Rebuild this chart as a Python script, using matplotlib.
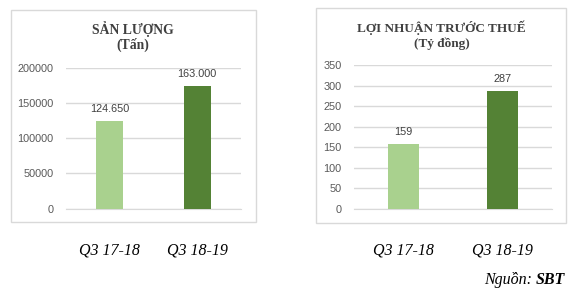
import matplotlib.pyplot as plt
from matplotlib.patches import Rectangle

# Data
periods = ['Q3 17-18', 'Q3 18-19']
san_luong = [124650, 174000]          # bar heights as drawn in the picture
san_luong_labels = ['124.650', '163.000']
loi_nhuan = [159, 287]
loi_nhuan_labels = ['159', '287']
bar_colors = ['#a9d18e', '#548235']

serif = 'Liberation Serif'
sans = 'Liberation Sans'
grid_col = '#d9d9d9'
tick_col = '#595959'

fig = plt.figure(figsize=(5.86, 2.97), dpi=100)
fig.patch.set_facecolor('white')

# chart frames
for rect in [(11 / 586, 75 / 297, 245 / 586, 212 / 297),
             (316 / 586, 74 / 297, 250 / 586, 215 / 297)]:
    fig.patches.append(Rectangle(rect[:2], rect[2], rect[3], transform=fig.transFigure,
                                 facecolor='none', edgecolor=grid_col, linewidth=1))


def bar_panel(ax, values, labels, ylim, step):
    x = range(len(values))
    ax.bar(x, values, width=0.31, color=bar_colors, zorder=3)
    for xi, v, lab in zip(x, values, labels):
        ax.annotate(lab, (xi, v), xytext=(0, 5), textcoords='offset points',
                    ha='center', va='bottom', fontsize=7.8, family=sans, color='#404040')
    ax.set_xlim(-0.5, len(values) - 0.5)
    ax.set_ylim(0, ylim)
    ax.set_yticks(range(0, ylim + 1, step))
    ax.yaxis.grid(True, color=grid_col, linewidth=1, zorder=0)
    ax.set_xticks(list(x))
    ax.set_xticklabels(periods, family=serif, style='italic', fontsize=11.5, color='black')
    ax.tick_params(axis='x', length=0, pad=24)
    ax.tick_params(axis='y', length=0, pad=9, labelsize=7.8, labelcolor=tick_col)
    for lab in ax.get_yticklabels():
        lab.set_family(sans)
    for s in ax.spines.values():
        s.set_visible(False)
    ax.spines['bottom'].set_visible(True)
    ax.spines['bottom'].set_color(grid_col)


ax1 = fig.add_axes([66 / 586, 88.3 / 297, 175 / 586, 141 / 297])
bar_panel(ax1, san_luong, san_luong_labels, 200000, 50000)

ax2 = fig.add_axes([354 / 586, 88.3 / 297, 198 / 586, 143.4 / 297])
bar_panel(ax2, loi_nhuan, loi_nhuan_labels, 350, 50)

# titles
fig.text(133 / 586, 0.902, 'SẢN LƯỢNG', ha='center', va='center',
         family=serif, weight='bold', fontsize=9.8, color='#404040')
fig.text(133 / 586, 0.848, '(Tấn)', ha='center', va='center',
         family=serif, weight='bold', fontsize=9.8, color='#404040')
fig.text(441 / 586, 0.907, 'LỢI NHUẬN TRƯỚC THUẾ', ha='center', va='center',
         family=serif, weight='bold', fontsize=9.5, color='#404040')
fig.text(442 / 586, 0.854, '(Tỷ đồng)', ha='center', va='center',
         family=serif, weight='bold', fontsize=9.5, color='#404040')

# source
t_sbt = fig.text(0.964, 0.03, 'SBT', ha='right', va='bottom',
                 family=serif, weight='bold', style='italic', fontsize=11.5)
fig.canvas.draw()
bb = t_sbt.get_window_extent()
t_src = fig.text(bb.x0 / fig.bbox.width, 0.03, 'Nguồn: ', ha='right', va='bottom',
                 family=serif, style='italic', fontsize=11.5)

fig.savefig('out.png', dpi=100)
